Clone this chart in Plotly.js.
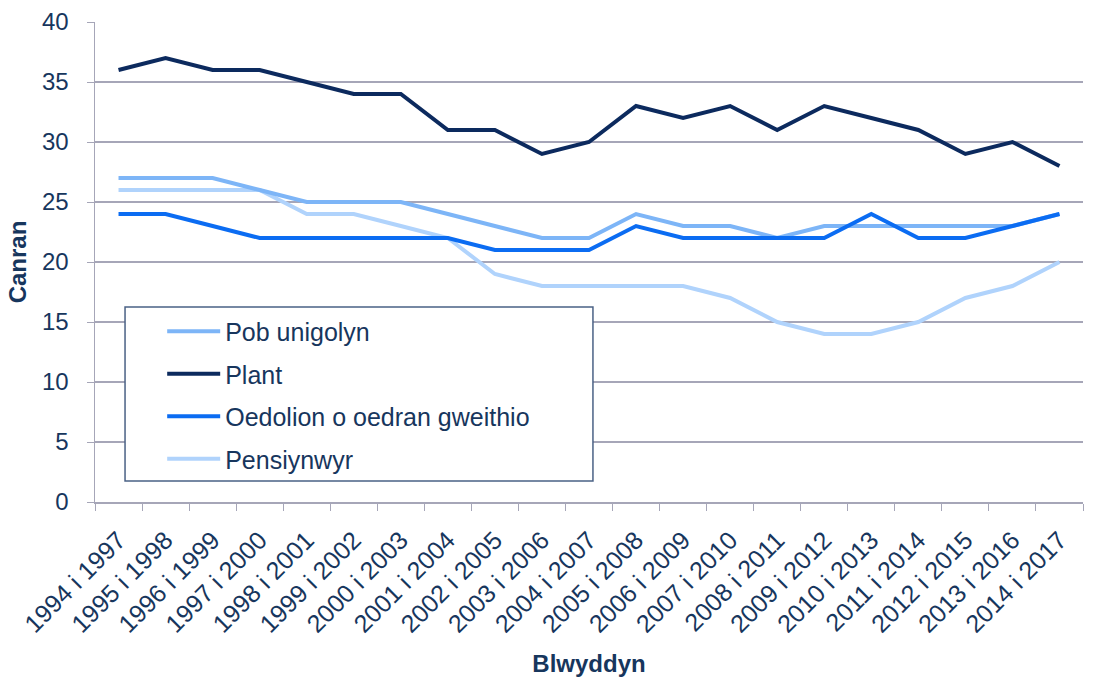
<!DOCTYPE html>
<html>
<head>
<meta charset="utf-8">
<script src="https://cdn.plot.ly/plotly-3.0.1.min.js"></script>
<style>html,body{margin:0;padding:0;background:#fff;}#chart{width:1094px;height:681px;}</style>
</head>
<body>
<div id="chart"></div>
<script>
var categories = ["1994 i 1997","1995 i 1998","1996 i 1999","1997 i 2000","1998 i 2001","1999 i 2002","2000 i 2003","2001 i 2004","2002 i 2005","2003 i 2006","2004 i 2007","2005 i 2008","2006 i 2009","2007 i 2010","2008 i 2011","2009 i 2012","2010 i 2013","2011 i 2014","2012 i 2015","2013 i 2016","2014 i 2017"];
var pobUnigolyn = [27,27,27,26,25,25,25,24,23,22,22,24,23,23,22,23,23,23,23,23,24];
var plant = [36,37,36,36,35,34,34,31,31,29,30,33,32,33,31,33,32,31,29,30,28];
var oedolion = [24,24,23,22,22,22,22,22,21,21,21,23,22,22,22,22,24,22,22,23,24];
var pensiynwyr = [26,26,26,26,24,24,23,22,19,18,18,18,18,17,15,14,14,15,17,18,20];
var seriesNames = ["Pob unigolyn","Plant","Oedolion o oedran gweithio","Pensiynwyr"];
var yTicks = [0,5,10,15,20,25,30,35,40];

var textColor = "#17365d";
var font = "Liberation Sans, Arial, sans-serif";

function tr(name, y, color, rank) {
  return {x: categories, y: y, name: name, type: "scatter", mode: "lines",
          line: {color: color, width: 4}, hoverinfo: "skip",
          legendgroup: "g" + rank, legendrank: rank};
}
var data = [
  tr(seriesNames[3], pensiynwyr, "#b0d3fc", 4),
  tr(seriesNames[0], pobUnigolyn, "#7db5f7", 1),
  tr(seriesNames[2], oedolion, "#0b6cf2", 3),
  tr(seriesNames[1], plant, "#0c2a5e", 2)
];

var layout = {
  width: 1094, height: 681,
  margin: {l: 95, r: 11, t: 22, b: 179},
  paper_bgcolor: "#fff", plot_bgcolor: "#fff",
  font: {family: font, color: textColor, size: 24},
  showlegend: true,
  legend: {x: 0.068, y: 0.403, xanchor: "left", yanchor: "top",
           borderwidth: 0, bgcolor: "rgba(0,0,0,0)",
           font: {size: 25, color: textColor}, tracegroupgap: 7,
           itemwidth: 53},
  shapes: [{type: "rect", xref: "paper", yref: "paper",
            x0: 0.0304, x1: 0.504, y0: 0.0437, y1: 0.406,
            line: {color: "#4a6185", width: 1.5}, fillcolor: "#fff", layer: "above"}],
  xaxis: {
    type: "category", tickson: "boundaries", ticks: "outside", ticklen: 7,
    tickcolor: "#a6a6b8", showline: true, linecolor: "#a6a6b8", linewidth: 1.5,
    showgrid: false, tickangle: -45, tickfont: {size: 25, color: textColor},
    ticklabelstandoff: 12,
    title: {text: "<b>Blwyddyn</b>", font: {size: 24, color: textColor}, standoff: 18},
    range: [-0.5, categories.length - 0.5], automargin: false
  },
  yaxis: {
    range: [0, 40], tickvals: yTicks, ticks: "outside", ticklen: 7,
    tickcolor: "#a6a6b8", showline: true, linecolor: "#a6a6b8", linewidth: 1.5,
    gridcolor: "#a6a6b8", gridwidth: 1.2, zeroline: false,
    tickfont: {size: 24, color: textColor}, ticklabelstandoff: 13,
    title: {text: "<b>Canran</b>", font: {size: 24, color: textColor}, standoff: 8},
    automargin: false
  }
};
Plotly.newPlot("chart", data, layout, {displayModeBar: false, staticPlot: true});
</script>
</body>
</html>
